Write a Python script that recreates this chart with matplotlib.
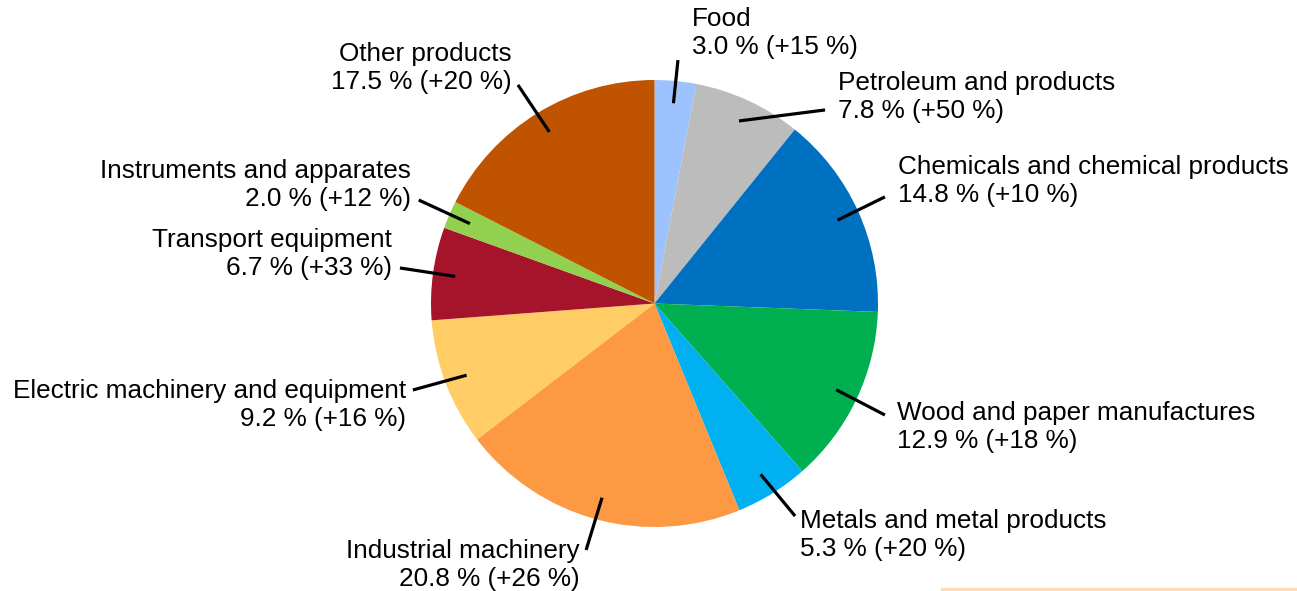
import numpy as np
import matplotlib.pyplot as plt
from matplotlib.patches import Rectangle

plt.rcParams['font.family'] = ['Liberation Sans', 'DejaVu Sans']

# Shares of exports by product group, % (change vs previous year in brackets)
categories = ['Food', 'Petroleum and products', 'Chemicals and chemical products',
              'Wood and paper manufactures', 'Metals and metal products',
              'Industrial machinery', 'Electric machinery and equipment',
              'Transport equipment', 'Instruments and apparates', 'Other products']
shares = [3.0, 7.8, 14.8, 12.9, 5.3, 20.8, 9.2, 6.7, 2.0, 17.5]
changes = [15, 50, 10, 18, 20, 26, 16, 33, 12, 20]

colors = ['#9dc3fe', '#bbbcbb', '#0070c0', '#00b050', '#00b0f0',
          '#fd9843', '#ffcc66', '#a5142a', '#92d050', '#bf5300']

# label placement in pie-radius units: text anchor, leader-line end, alignment
text_pos = [(0.168, 1.210), (0.821, 0.924), (1.089, 0.548), (1.085, -0.553),
            (0.651, -1.036), (-0.333, -1.170), (-1.112, -0.454),
            (-1.174, 0.221), (-1.089, 0.530), (-0.638, 1.054)]
line_end = [(0.105, 1.089), (0.763, 0.866), (1.031, 0.477), (1.031, -0.499),
            (0.629, -0.951), (-0.306, -1.103), (-1.081, -0.387),
            (-1.139, 0.159), (-1.055, 0.463), (-0.611, 0.978)]
align = ['left'] * 5 + ['right'] * 5

W, H = 1297, 591
R = 223.5
cx, cy = 654.5, 303.5

fig = plt.figure(figsize=(W / 100, H / 100), dpi=100)
ax = fig.add_axes([0, 0, 1, 1])

wedges, _ = ax.pie(shares, colors=colors, startangle=90, counterclock=False,
                   radius=1.0, wedgeprops=dict(linewidth=0))

ax.set_xlim(-cx / R, (W - cx) / R)
ax.set_ylim(-(H - cy) / R, cy / R)
ax.set_aspect('equal')
ax.axis('off')

for w, lbl, s, c, tp, le, ha in zip(wedges, categories, shares, changes,
                                    text_pos, line_end, align):
    mid = np.deg2rad((w.theta1 + w.theta2) / 2)
    inner = (0.9 * np.cos(mid), 0.9 * np.sin(mid))
    ax.plot([inner[0], le[0]], [inner[1], le[1]], color='black', lw=2.3,
            solid_capstyle='butt')
    ax.text(tp[0], tp[1], f'{lbl}\n{s:.1f} % (+{c} %)', ha=ha, va='center',
            multialignment=ha, fontsize=18.8, linespacing=1.17)

fig.patches.append(Rectangle((941 / W, 0), (W - 941) / W, 3 / H,
                             transform=fig.transFigure, color='#fddcbc'))

fig.savefig('out.png', dpi=100)
